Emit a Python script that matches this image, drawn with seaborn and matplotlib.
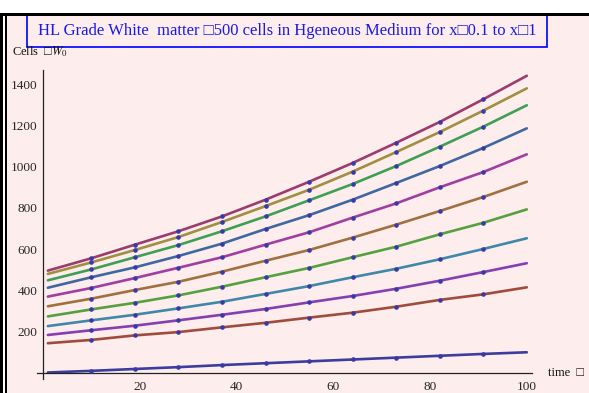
import numpy as np
import pandas as pd
import seaborn as sns
import matplotlib.pyplot as plt
from matplotlib.patches import Rectangle
from matplotlib.ticker import MultipleLocator

# sample times along each solution curve (end points plus 10 interior mesh points)
time = [1, 10, 19, 28, 37, 46, 55, 64, 73, 82, 91, 100]

# cell counts, one list per curve
cells_a = [2, 10, 19, 28, 38, 47, 56, 65, 74, 83, 92, 100]
cells_b = [496, 556, 622, 687, 759, 840, 927, 1018, 1116, 1217, 1327, 1441]
cells_c = [480, 536, 596, 659, 732, 809, 888, 976, 1071, 1168, 1272, 1380]
cells_d = [449, 502, 561, 620, 687, 759, 837, 916, 1003, 1097, 1194, 1298]
cells_e = [413, 464, 512, 567, 627, 698, 765, 840, 921, 1003, 1091, 1186]
cells_f = [370, 412, 460, 510, 561, 622, 682, 753, 822, 900, 974, 1060]
cells_g = [323, 360, 402, 442, 491, 544, 596, 656, 719, 785, 853, 927]
cells_h = [274, 308, 340, 376, 418, 464, 509, 561, 612, 672, 728, 793]
cells_i = [227, 255, 282, 313, 345, 383, 421, 464, 505, 551, 601, 653]
cells_j = [184, 207, 229, 255, 282, 310, 342, 373, 408, 447, 489, 532]
cells_k = [144, 160, 182, 198, 221, 243, 268, 292, 321, 354, 381, 415]

series = {
    "a": cells_a, "b": cells_b, "c": cells_c, "d": cells_d, "e": cells_e,
    "f": cells_f, "g": cells_g, "h": cells_h, "i": cells_i, "j": cells_j,
    "k": cells_k,
}
line_colors = ["#3d3d9e", "#9c3c6c", "#a08f42", "#3f9f55", "#3f68a0",
               "#a03fa0", "#a0703f", "#55a03f", "#3f88a8", "#853fb0",
               "#a04c3c"]

yticks = [200, 400, 600, 800, 1000, 1200, 1400]
xticks = [20, 40, 60, 80, 100]

frames = [pd.DataFrame({"time": time, "cells": v, "curve": k}) for k, v in series.items()]
df = pd.concat(frames, ignore_index=True)
mesh = df[(df["time"] > 1) & (df["time"] < 100)]

bg = "#fdeded"
sns.set_style("white")
plt.rcParams["mathtext.fontset"] = "stix"
serif = ["Liberation Serif", "DejaVu Sans"]

fig = plt.figure(figsize=(5.89, 3.93), dpi=100, facecolor=bg)
ax = fig.add_axes([0.0632, 0.0354, 0.8394, 0.787])
ax.set_facecolor(bg)

sns.lineplot(data=df, x="time", y="cells", hue="curve",
             palette=dict(zip(series.keys(), line_colors)),
             linewidth=1.9, legend=False, ax=ax, sort=True, estimator=None)
sns.scatterplot(data=mesh, x="time", y="cells", color="#3a3aa6", s=11,
                linewidth=0, legend=False, ax=ax, zorder=5)

ax.set_xlim(-1.2, 101)
ax.set_ylim(-30, 1470)
for side in ("top", "right"):
    ax.spines[side].set_visible(False)
for side in ("left", "bottom"):
    ax.spines[side].set_position(("data", 0))
    ax.spines[side].set_color("#222222")
    ax.spines[side].set_linewidth(0.9)

ax.set_xticks(xticks)
ax.set_yticks(yticks)
ax.xaxis.set_minor_locator(MultipleLocator(5))
ax.yaxis.set_minor_locator(MultipleLocator(50))
ax.tick_params(which="major", direction="in", length=4, width=0.8, color="#222222",
               labelsize=9.5, pad=4)
ax.tick_params(which="minor", direction="in", length=2.2, width=0.7, color="#222222")
ax.tick_params(axis="x", which="major", pad=6)
for lab in ax.get_xticklabels() + ax.get_yticklabels():
    lab.set_family(serif)
ax.set_xlabel("")
ax.set_ylabel("")

# axis captions
fig.text(12 / 589, 1 - 52 / 393, "Cells  \u25a1$W_0$", family=serif, fontsize=9,
         va="center", ha="left", color="#111111")
fig.text(548 / 589, 1 - 373 / 393, "time  \u25a1", family=serif, fontsize=9,
         va="center", ha="left", color="#111111")

# framed title
fig.add_artist(Rectangle((27 / 589, 1 - 47 / 393), 520 / 589, 32 / 393,
                         transform=fig.transFigure, facecolor=bg,
                         edgecolor="#1010ff", linewidth=1.3))
fig.text(287 / 589, 1 - 31 / 393,
         "HL Grade White  matter \u25a1500 cells in Hgeneous Medium for x\u25a10.1 to x\u25a11",
         family=serif, fontsize=12, color="#1a1ae6", ha="center", va="center")

# cell bracket borders
fig.add_artist(Rectangle((0, 1 - 13 / 393), 1, 13 / 393, transform=fig.transFigure,
                         facecolor="white", edgecolor="none"))
fig.add_artist(Rectangle((0, 1 - 16 / 393), 1, 3 / 393, transform=fig.transFigure,
                         facecolor="black", edgecolor="none"))
fig.add_artist(Rectangle((0, 0), 3.3 / 589, 1 - 16 / 393, transform=fig.transFigure,
                         facecolor="black", edgecolor="none"))
fig.add_artist(Rectangle((3.3 / 589, 0), 2 / 589, 1 - 16 / 393, transform=fig.transFigure,
                         facecolor="white", edgecolor="none"))
fig.add_artist(Rectangle((5.3 / 589, 0), 2 / 589, 1 - 16 / 393, transform=fig.transFigure,
                         facecolor="black", edgecolor="none"))

fig.savefig("out.png", dpi=100, facecolor=bg)
